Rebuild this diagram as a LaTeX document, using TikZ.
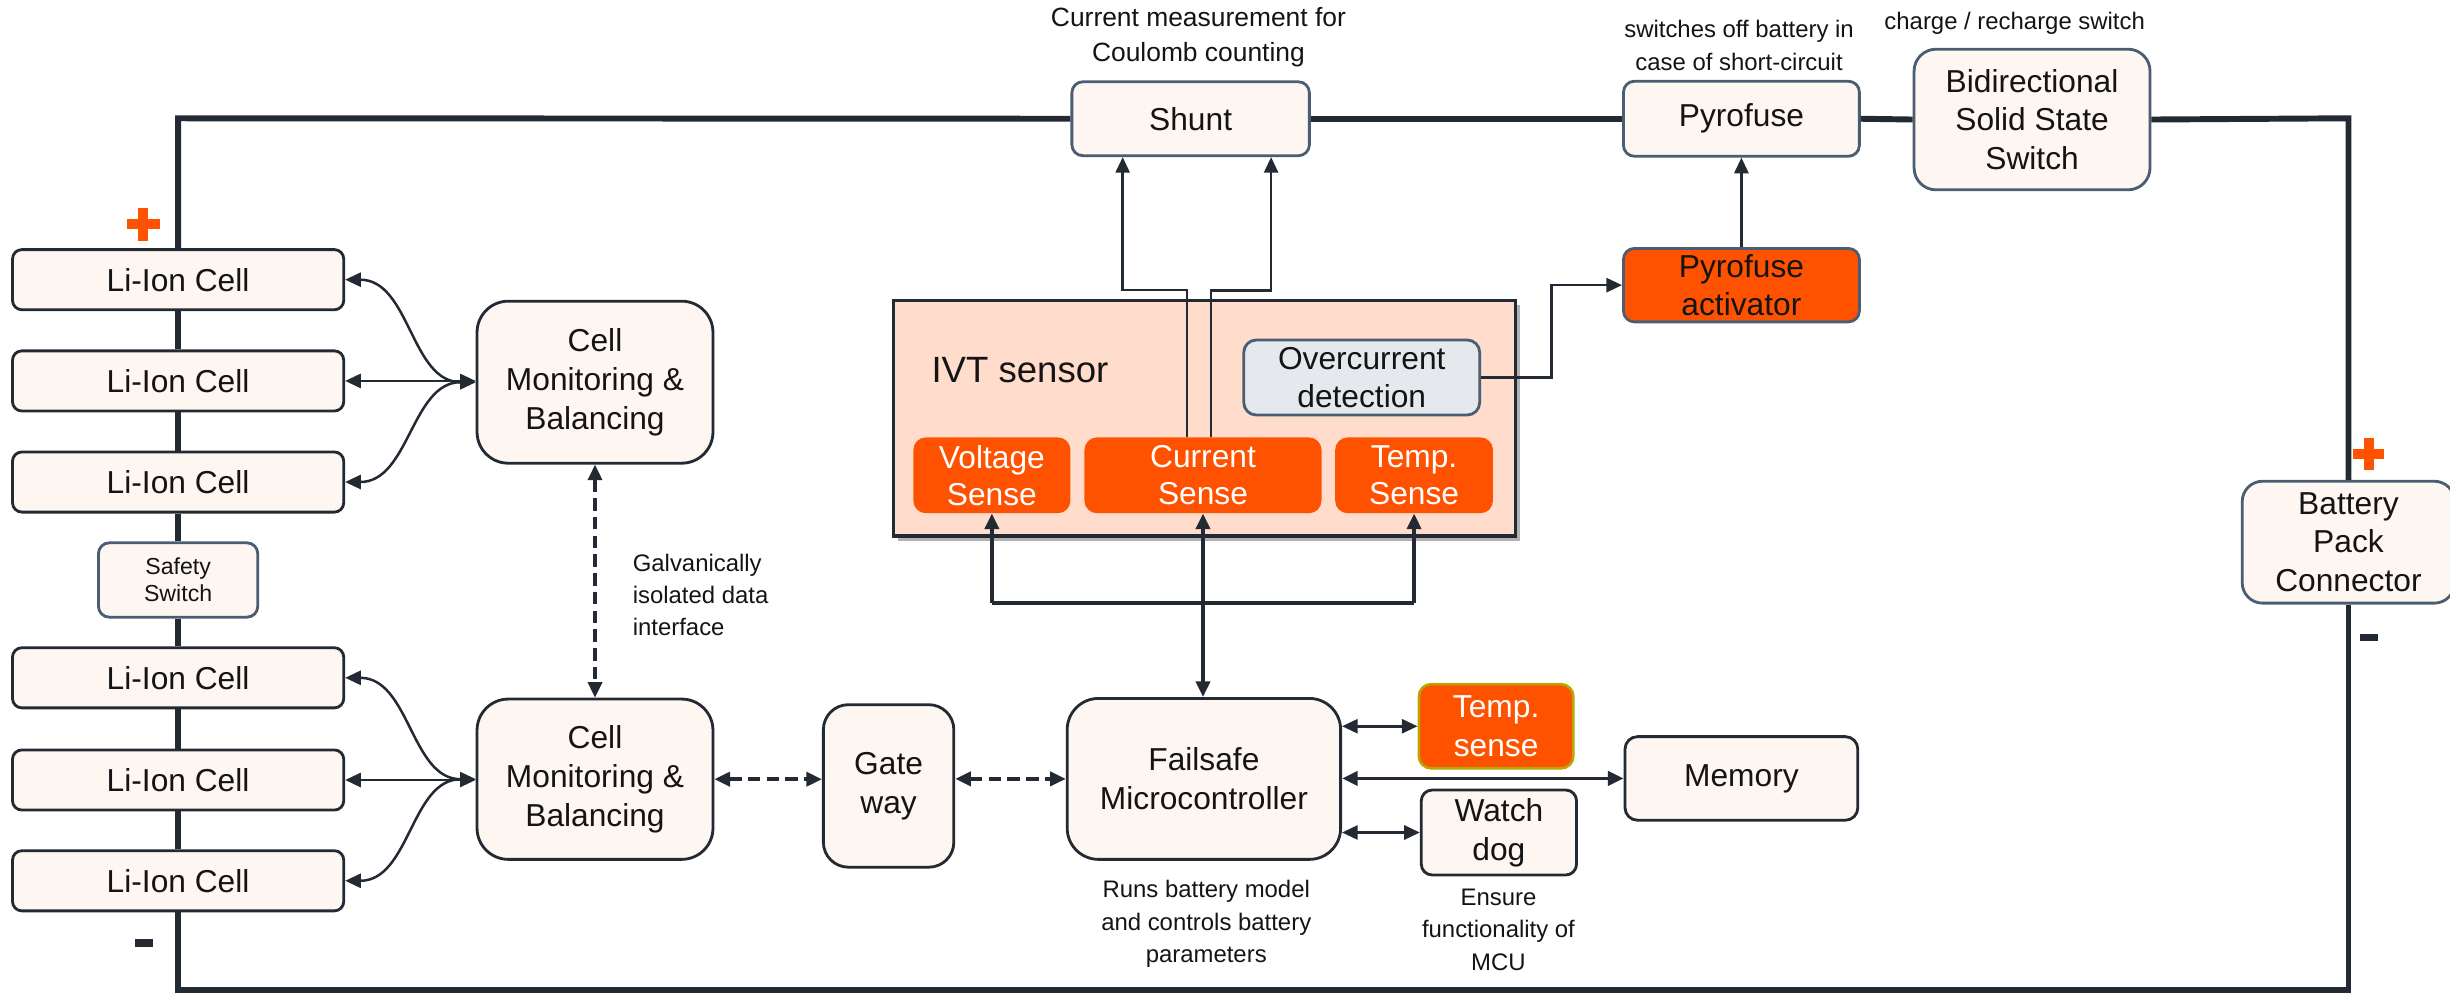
\documentclass[tikz,border=0pt]{standalone}
\usepackage{fontspec}
\setmainfont{Liberation Sans}
\usetikzlibrary{arrows.meta,shadows,calc}
\definecolor{dk}{RGB}{35,42,51}
\definecolor{slate}{RGB}{75,93,115}
\definecolor{cream}{RGB}{253,246,241}
\definecolor{orng}{RGB}{255,82,0}
\definecolor{ivtfill}{RGB}{255,220,204}
\definecolor{ocfill}{RGB}{229,232,237}
\definecolor{olive}{RGB}{184,168,0}
\definecolor{txt}{RGB}{20,20,20}
\begin{document}
\begin{tikzpicture}[x=1pt,y=-1pt,
 >={Triangle[length=10pt,width=9pt]},
 base/.style={inner sep=0pt, align=center, text=txt, font=\fontsize{20.3}{24.8}\selectfont},
 darkbox/.style={base, draw=dk, line width=1.8pt, fill=cream},
 slatebox/.style={base, draw=slate, line width=1.8pt, fill=cream},
 orangebox/.style={base, fill=orng, text=white, rounded corners=8pt},
 ann/.style={inner sep=0pt, align=center, text=txt, font=\fontsize{15.3}{20.7}\selectfont},
 wire/.style={draw=dk, line width=3.8pt},
 conn/.style={draw=dk, line width=1.6pt},
 bus/.style={draw=dk, line width=2.3pt},
 dasharr/.style={draw=dk, line width=2.3pt, dash pattern=on 8pt off 4pt},
 cellbox/.style={darkbox, rounded corners=6pt, minimum width=212pt, minimum height=38.5pt},
]
\useasboundingbox (0,0) rectangle (1568,636);

% ---------- corners of the main loop
\coordinate (TL) at (114,75.7);
\coordinate (TR) at (1503,75.7);
\coordinate (BR) at (1503,633.4);
\coordinate (BL) at (114,633.4);

% ---------- cells
\node[cellbox] (c1) at (114,179) {Li-Ion Cell};
\node[cellbox] (c2) at (114,243.8) {Li-Ion Cell};
\node[cellbox] (c3) at (114,308.5) {Li-Ion Cell};
\node[slatebox, rounded corners=7pt, minimum width=102pt, minimum height=47.6pt, font=\fontsize{14.8}{17.3}\selectfont] (sw) at (114,371.2) {Safety\\Switch};
\node[cellbox] (c4) at (114,433.8) {Li-Ion Cell};
\node[cellbox] (c5) at (114,499.2) {Li-Ion Cell};
\node[cellbox] (c6) at (114,563.7) {Li-Ion Cell};

% ---------- top row
\node[slatebox, rounded corners=7pt, minimum width=152pt, minimum height=47.3pt] (shunt) at (762,76) {Shunt};
\node[slatebox, rounded corners=7pt, minimum width=151pt, minimum height=48pt] (pyro) at (1114.5,76) {Pyrofuse};
\node[slatebox, rounded corners=14pt, minimum width=151pt, minimum height=90pt] (bidir) at (1300.5,76.5) {Bidirectional\\Solid State\\Switch};
\node[slatebox, rounded corners=13pt, minimum width=136pt, minimum height=78pt] (bpc) at (1503,347) {Battery\\Pack\\Connector};

% ---------- main loop wire
\draw[wire] (c1.north) -- (TL) -- (shunt.west);
\draw[wire] (shunt.east) -- (pyro.west);
\draw[wire] (pyro.east) -- (bidir.west);
\draw[wire] (bidir.east) -- (TR) -- (bpc.north);
\draw[wire] (bpc.south) -- (BR) -- (BL) -- (c6.south);
\draw[wire] (c1.south) -- (c2.north);
\draw[wire] (c2.south) -- (c3.north);
\draw[wire] (c3.south) -- (sw.north);
\draw[wire] (sw.south) -- (c4.north);
\draw[wire] (c4.south) -- (c5.north);
\draw[wire] (c5.south) -- (c6.north);

% ---------- polarity marks
\fill[orng] (81.1,140.25) rectangle (102.1,146.75);
\fill[orng] (88.35,133) rectangle (94.85,154);
\fill[dk] (86.5,601.1) rectangle (98,606.1);
\fill[orng] (1506,287.4) rectangle (1526,293.8);
\fill[orng] (1512.8,280.6) rectangle (1519.2,300.6);
\fill[dk] (1510.2,405.5) rectangle (1521.7,410.5);

% ---------- monitoring
\node[darkbox, rounded corners=20pt, minimum width=151pt, minimum height=103.7pt] (cmb1) at (380.8,244.6) {Cell\\Monitoring \&\\Balancing};
\node[darkbox, rounded corners=20pt, minimum width=151pt, minimum height=102.6pt] (cmb2) at (380.8,498.7) {Cell\\Monitoring \&\\Balancing};
\node[darkbox, rounded corners=16pt, minimum width=83.5pt, minimum height=104pt] (gate) at (568.7,503) {Gate\\way};
\node[darkbox, rounded corners=20pt, minimum width=175pt, minimum height=103pt] (mcu) at (770.5,498.5) {Failsafe\\Microcontroller};
\node[orangebox, draw=olive, line width=1.6pt, minimum width=99pt, minimum height=54pt] (tsense) at (957.5,464.8) {Temp.\\sense};
\node[darkbox, rounded corners=7pt, minimum width=99.4pt, minimum height=54.4pt] (watch) at (959.3,532.8) {Watch\\dog};
\node[darkbox, rounded corners=8pt, minimum width=149pt, minimum height=53.5pt] (mem) at (1114.5,498.2) {Memory};

% ---------- IVT sensor
\node[base, draw=dk, line width=2.2pt, fill=ivtfill, minimum width=398pt, minimum height=150.6pt,
      drop shadow={shadow xshift=3pt, shadow yshift=-3pt, opacity=0.3, fill=black}] (ivt) at (771,267.7) {};
\node[base, anchor=west, font=\fontsize{23.4}{28}\selectfont] (ivtlbl) at (596,237) {IVT sensor};
\node[base, draw=slate, line width=1.8pt, fill=ocfill, rounded corners=8pt, minimum width=151pt, minimum height=48pt] (oc) at (871.5,241.6) {Overcurrent\\detection};
\node[orangebox, minimum width=100.5pt, minimum height=48.5pt, font=\fontsize{20.3}{23.5}\selectfont] (vs) at (634.8,304.2) {Voltage\\Sense};
\node[orangebox, minimum width=151.7pt, minimum height=48.5pt, font=\fontsize{20.3}{23.5}\selectfont] (cs) at (769.9,304.2) {Current\\Sense};
\node[orangebox, minimum width=101pt, minimum height=48.5pt, font=\fontsize{20.3}{23.5}\selectfont] (ts) at (905,304.2) {Temp.\\Sense};
\node[base, draw=slate, line width=1.8pt, fill=orng, rounded corners=7pt, minimum width=151pt, minimum height=47pt] (pact) at (1114.5,182.5) {Pyrofuse\\activator};

% ---------- annotations
\node[ann, font=\fontsize{16.9}{22.4}\selectfont] (a1) at (767,23.6) {Current measurement for\\Coulomb counting};
\node[ann] (a2) at (1113,29.2) {switches off battery in\\case of short-circuit};
\node[ann] (a3) at (1289.4,14.9) {charge / recharge switch};
\node[ann, align=left, anchor=west] (a4) at (404.8,380.8) {Galvanically\\isolated data\\interface};
\node[ann] (a5) at (772,591.3) {Runs battery model\\and controls battery\\parameters};
\node[ann] (a6) at (959,595) {Ensure\\functionality of\\MCU};

% ---------- cell monitoring connectors
\draw[conn,<->] (c1.east) to[out=0,in=180] (cmb1.west);
\draw[conn,<->] (c2.east) -- (c2.east -| cmb1.west);
\draw[conn,<->] (c3.east) to[out=0,in=180] (cmb1.west);
\draw[conn,<->] (c4.east) to[out=0,in=180] (cmb2.west);
\draw[conn,<->] (c5.east) -- (c5.east -| cmb2.west);
\draw[conn,<->] (c6.east) to[out=0,in=180] (cmb2.west);

% ---------- dashed data links
\draw[dasharr,<->] (cmb1.south) -- (cmb2.north);
\draw[dasharr,<->] (cmb2.east) -- (cmb2.east -| gate.west);
\draw[dasharr,<->] (mcu.west -| gate.east) -- (mcu.west);

% ---------- MCU peripherals
\draw[conn,<->] (mcu.east |- tsense.west) -- (tsense.west);
\draw[bus,<->] (mcu.east |- mem.west) -- (mem.west);
\draw[conn,<->] (mcu.east |- watch.west) -- (watch.west);

% ---------- sensor bus
\coordinate (busL) at (634.8,386);
\coordinate (busR) at (905,386);
\draw[bus] (busL) -- (busR);
\draw[bus,->] (busL) -- (vs.south);
\draw[bus,->] (busR) -- (ts.south);
\draw[bus,<->] (cs.south) -- (cs.south |- mcu.north);

% ---------- shunt sense lines
\coordinate (s1a) at (759.7,185.6);
\coordinate (s1b) at (718.5,185.6);
\coordinate (s2a) at (775,186);
\coordinate (s2b) at (813.5,186);
\draw[conn,->] (cs.north -| s1a) -- (s1a) -- (s1b) -- (s1b |- shunt.south);
\draw[conn,->] (cs.north -| s2a) -- (s2a) -- (s2b) -- (s2b |- shunt.south);

% ---------- overcurrent -> pyrofuse
\coordinate (ocb) at (993,182.5);
\draw[conn,->] (oc.east) -| (ocb) -- (pact.west);
\draw[conn,->] (pact.north) -- (pyro.south);
\end{tikzpicture}
\end{document}
